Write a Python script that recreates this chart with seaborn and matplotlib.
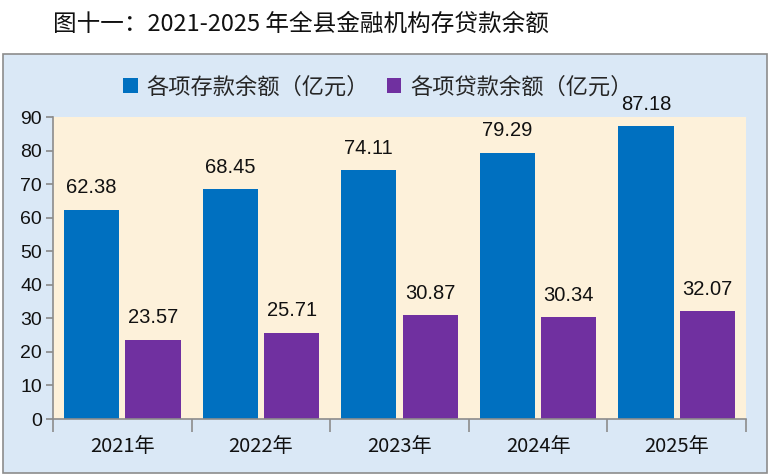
import pandas as pd
import seaborn as sns
import matplotlib.pyplot as plt
from matplotlib.patches import Rectangle
from matplotlib.ticker import FixedLocator

# Data
years = ["2021年", "2022年", "2023年", "2024年", "2025年"]
series = ["各项存款余额（亿元）", "各项贷款余额（亿元）"]
deposits = [62.38, 68.45, 74.11, 79.29, 87.18]
loans = [23.57, 25.71, 30.87, 30.34, 32.07]
yticks = list(range(0, 100, 10))

df = pd.DataFrame({
    "year": years * 2,
    "series": [series[0]] * len(years) + [series[1]] * len(years),
    "value": deposits + loans,
})

sns.set_theme(style="white")
plt.rcParams["font.family"] = ["Noto Sans CJK SC", "DejaVu Sans"]

fig = plt.figure(figsize=(7.73, 4.76), dpi=100)

# outer light blue frame, kept behind the axes
fig.patches.append(Rectangle((3 / 773, 1 - 473 / 476), 764 / 773, 419 / 476,
                             transform=fig.transFigure, facecolor="#dae8f6",
                             edgecolor="#8c8c8c", linewidth=1.2, zorder=-5))

ax = fig.add_axes([53 / 773, 1 - 419 / 476, 693 / 773, 302 / 476])
ax.set_zorder(1)
ax.set_facecolor("#fdf1da")

sns.barplot(data=df, x="year", y="value", hue="series",
            palette=["#0070c0", "#7030a0"], width=0.886, gap=0.1,
            saturation=1, linewidth=0, ax=ax, legend=True)

for c in ax.containers:
    ax.bar_label(c, fmt="%.2f", padding=9, fontsize=14.5,
                 family=["Liberation Sans", "DejaVu Sans"], color="#111111")

ax.set_xlim(-0.5, 4.5)
ax.set_ylim(0, 90)
ax.set_yticks(yticks)
ax.set_xlabel("")
ax.set_ylabel("")

for s in ["top", "right"]:
    ax.spines[s].set_visible(False)
for s in ["left", "bottom"]:
    ax.spines[s].set_color("#8c8c8c")
    ax.spines[s].set_linewidth(1.2)

ax.tick_params(axis="y", left=True, length=5, color="#8c8c8c", labelsize=14,
               labelcolor="#111111", pad=3)
ax.tick_params(axis="x", which="major", bottom=False, labelsize=14.5,
               labelcolor="#111111", pad=6)
ax.xaxis.set_minor_locator(FixedLocator([-0.5, 0.5, 1.5, 2.5, 3.5, 4.5]))
ax.tick_params(axis="x", which="minor", bottom=True, length=9, width=1.2,
               color="#8c8c8c")
for lab in ax.get_yticklabels():
    lab.set_family(["Liberation Sans", "DejaVu Sans"])

handles, labels = ax.get_legend_handles_labels()
for h in handles:
    h.set_edgecolor("none")
ax.get_legend().remove()
fig.legend(handles, labels, loc="center", bbox_to_anchor=(378 / 773, 1 - 87 / 476),
           ncol=2, frameon=False, fontsize=16, handlelength=0.65, handleheight=0.65,
           handletextpad=0.4, columnspacing=0.8)

fig.text(53 / 773, 1 - 24 / 476, "图十一：2021-2025 年全县金融机构存贷款余额",
         fontsize=17, va="center", ha="left", color="#111111")

fig.savefig("out.png", dpi=100)
